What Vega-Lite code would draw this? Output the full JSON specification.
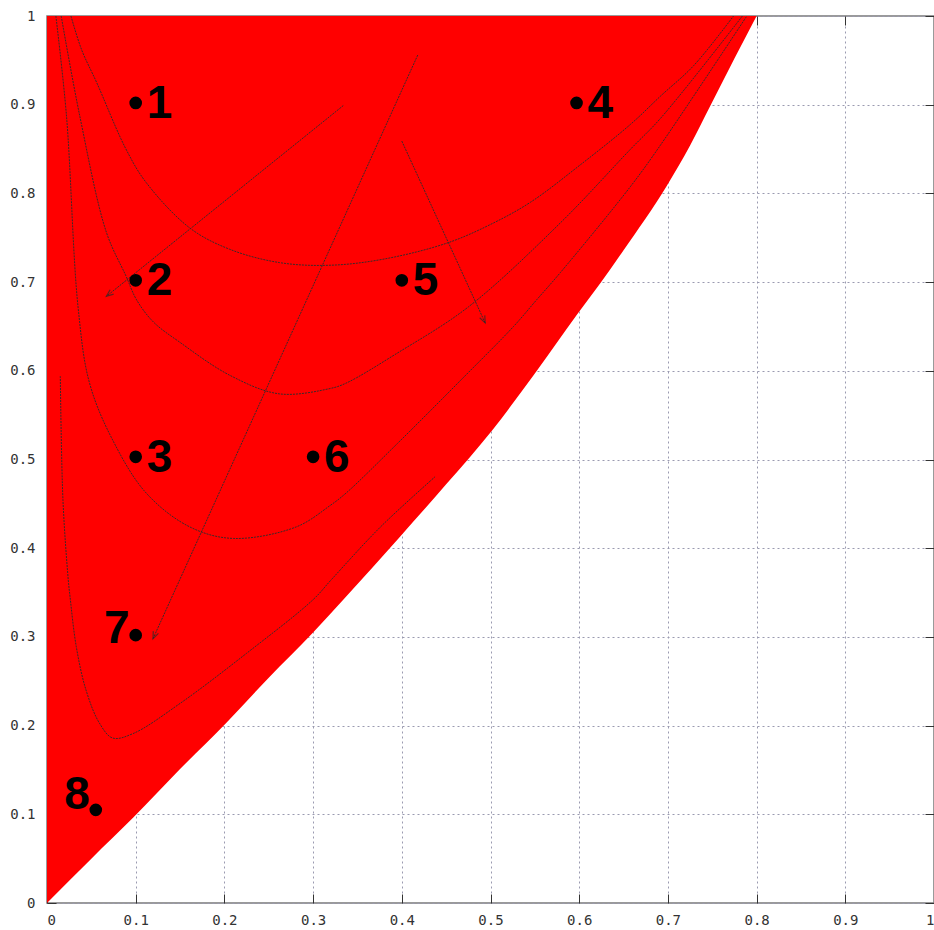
{
  "$schema": "https://vega.github.io/schema/vega-lite/v6.json",
  "width": 887,
  "height": 887,
  "autosize": {"type": "none"},
  "padding": {"left": 47, "top": 16, "right": 0, "bottom": 27},
  "background": "white",
  "config": {
    "view": {"stroke": "#7a7a7a", "strokeWidth": 1.5},
    "axis": {
      "labelFont": "DejaVu Sans Mono",
      "labelFontSize": 14,
      "labelColor": "#333333",
      "tickColor": "#333333",
      "domain": false,
      "title": null
    }
  },
  "datasets": {
    "boundary": [
      {"x": 0, "y": 0}, {"x": 0.05, "y": 0.05}, {"x": 0.097, "y": 0.096}, {"x": 0.15, "y": 0.151},
      {"x": 0.202, "y": 0.203}, {"x": 0.25, "y": 0.254}, {"x": 0.3, "y": 0.305}, {"x": 0.335, "y": 0.343},
      {"x": 0.398, "y": 0.413}, {"x": 0.45, "y": 0.472}, {"x": 0.502, "y": 0.533}, {"x": 0.55, "y": 0.597},
      {"x": 0.598, "y": 0.664}, {"x": 0.624, "y": 0.699}, {"x": 0.65, "y": 0.736}, {"x": 0.699, "y": 0.809},
      {"x": 0.725, "y": 0.854}, {"x": 0.748, "y": 0.899}, {"x": 0.775, "y": 0.952}, {"x": 0.8, "y": 1.0}
    ],
    "curves": [
      {"c": "A", "i": 0, "x": 0.027, "y": 1.0}, {"c": "A", "i": 1, "x": 0.039, "y": 0.962},
      {"c": "A", "i": 2, "x": 0.056, "y": 0.925}, {"c": "A", "i": 3, "x": 0.089, "y": 0.85},
      {"c": "A", "i": 4, "x": 0.112, "y": 0.812}, {"c": "A", "i": 5, "x": 0.161, "y": 0.761},
      {"c": "A", "i": 6, "x": 0.206, "y": 0.737}, {"c": "A", "i": 7, "x": 0.262, "y": 0.722},
      {"c": "A", "i": 8, "x": 0.319, "y": 0.719}, {"c": "A", "i": 9, "x": 0.38, "y": 0.726},
      {"c": "A", "i": 10, "x": 0.451, "y": 0.744}, {"c": "A", "i": 11, "x": 0.5, "y": 0.765},
      {"c": "A", "i": 12, "x": 0.545, "y": 0.79},
      {"c": "A", "i": 13, "x": 0.601, "y": 0.832}, {"c": "A", "i": 14, "x": 0.658, "y": 0.878},
      {"c": "A", "i": 15, "x": 0.692, "y": 0.91}, {"c": "A", "i": 16, "x": 0.729, "y": 0.944},
      {"c": "A", "i": 17, "x": 0.774, "y": 1.0},
      {"c": "B", "i": 0, "x": 0.016, "y": 1.0}, {"c": "B", "i": 1, "x": 0.037, "y": 0.887},
      {"c": "B", "i": 2, "x": 0.067, "y": 0.756}, {"c": "B", "i": 3, "x": 0.089, "y": 0.707},
      {"c": "B", "i": 4, "x": 0.101, "y": 0.68}, {"c": "B", "i": 5, "x": 0.12, "y": 0.655},
      {"c": "B", "i": 6, "x": 0.15, "y": 0.632},
      {"c": "B", "i": 7, "x": 0.206, "y": 0.595}, {"c": "B", "i": 8, "x": 0.262, "y": 0.574},
      {"c": "B", "i": 9, "x": 0.319, "y": 0.58}, {"c": "B", "i": 10, "x": 0.337, "y": 0.586},
      {"c": "B", "i": 11, "x": 0.395, "y": 0.62}, {"c": "B", "i": 12, "x": 0.475, "y": 0.672},
      {"c": "B", "i": 13, "x": 0.579, "y": 0.767}, {"c": "B", "i": 14, "x": 0.658, "y": 0.85},
      {"c": "B", "i": 15, "x": 0.692, "y": 0.885}, {"c": "B", "i": 16, "x": 0.784, "y": 1.0},
      {"c": "C", "i": 0, "x": 0.01, "y": 1.0}, {"c": "C", "i": 1, "x": 0.022, "y": 0.887},
      {"c": "C", "i": 2, "x": 0.035, "y": 0.672}, {"c": "C", "i": 3, "x": 0.048, "y": 0.586},
      {"c": "C", "i": 4, "x": 0.074, "y": 0.522}, {"c": "C", "i": 5, "x": 0.112, "y": 0.462},
      {"c": "C", "i": 6, "x": 0.161, "y": 0.424}, {"c": "C", "i": 7, "x": 0.21, "y": 0.411},
      {"c": "C", "i": 8, "x": 0.281, "y": 0.424}, {"c": "C", "i": 9, "x": 0.319, "y": 0.448},
      {"c": "C", "i": 10, "x": 0.337, "y": 0.462}, {"c": "C", "i": 11, "x": 0.395, "y": 0.518},
      {"c": "C", "i": 12, "x": 0.47, "y": 0.593}, {"c": "C", "i": 13, "x": 0.526, "y": 0.65},
      {"c": "C", "i": 14, "x": 0.552, "y": 0.68}, {"c": "C", "i": 15, "x": 0.579, "y": 0.711},
      {"c": "C", "i": 16, "x": 0.658, "y": 0.808}, {"c": "C", "i": 17, "x": 0.692, "y": 0.855},
      {"c": "C", "i": 18, "x": 0.789, "y": 1.0},
      {"c": "D", "i": 0, "x": 0.015, "y": 0.594}, {"c": "D", "i": 1, "x": 0.018, "y": 0.454},
      {"c": "D", "i": 2, "x": 0.024, "y": 0.364}, {"c": "D", "i": 3, "x": 0.026, "y": 0.345},
      {"c": "D", "i": 4, "x": 0.033, "y": 0.289}, {"c": "D", "i": 5, "x": 0.044, "y": 0.24},
      {"c": "D", "i": 6, "x": 0.059, "y": 0.203}, {"c": "D", "i": 7, "x": 0.074, "y": 0.186},
      {"c": "D", "i": 8, "x": 0.097, "y": 0.191}, {"c": "D", "i": 9, "x": 0.15, "y": 0.225},
      {"c": "D", "i": 10, "x": 0.225, "y": 0.2815}, {"c": "D", "i": 11, "x": 0.3, "y": 0.342},
      {"c": "D", "i": 12, "x": 0.321, "y": 0.365}, {"c": "D", "i": 13, "x": 0.376, "y": 0.424},
      {"c": "D", "i": 14, "x": 0.438, "y": 0.481}
    ],
    "arrows": [
      {"a": 1, "i": 0, "x": 0.334, "y": 0.899}, {"a": 1, "i": 1, "x": 0.067, "y": 0.684},
      {"a": 2, "i": 0, "x": 0.418, "y": 0.956}, {"a": 2, "i": 1, "x": 0.1195, "y": 0.298},
      {"a": 3, "i": 0, "x": 0.4, "y": 0.859}, {"a": 3, "i": 1, "x": 0.494, "y": 0.654}
    ],
    "points": [
      {"label": "1", "x": 0.1, "y": 0.902},
      {"label": "2", "x": 0.1, "y": 0.702},
      {"label": "3", "x": 0.1, "y": 0.503},
      {"label": "4", "x": 0.597, "y": 0.902},
      {"label": "5", "x": 0.4, "y": 0.702},
      {"label": "6", "x": 0.3, "y": 0.503},
      {"label": "7", "x": 0.1, "y": 0.302},
      {"label": "8", "x": 0.055, "y": 0.105}
    ]
  },
  "layer": [
    {
      "data": {"name": "boundary"},
      "mark": {"type": "area", "color": "#ff0000", "opacity": 1, "interpolate": "monotone"},
      "encoding": {
        "x": {"field": "x", "type": "quantitative", "scale": {"domain": [0, 1], "nice": false, "zero": false},
          "axis": {"orient": "bottom", "values": [0, 0.1, 0.2, 0.3, 0.4, 0.5, 0.6, 0.7, 0.8, 0.9, 1], "format": "~g",
            "grid": true, "gridColor": "#9a9ab0", "gridDash": [2, 3], "gridWidth": 1, "tickSize": -9, "labelPadding": 19}},
        "y": {"field": "y", "type": "quantitative", "scale": {"domain": [0, 1], "nice": false, "zero": false},
          "axis": {"orient": "left", "values": [0, 0.1, 0.2, 0.3, 0.4, 0.5, 0.6, 0.7, 0.8, 0.9, 1], "format": "~g",
            "grid": true, "gridColor": "#9a9ab0", "gridDash": [2, 3], "gridWidth": 1, "tickSize": -9, "labelPadding": 21}},
        "y2": {"datum": 1}
      }
    },
    {
      "data": {"name": "curves"},
      "mark": {"type": "line", "color": "#3a2a2a", "strokeWidth": 1, "strokeDash": [2, 1], "interpolate": "catmull-rom"},
      "encoding": {
        "x": {"field": "x", "type": "quantitative",
          "axis": {"orient": "top", "values": [0, 0.1, 0.2, 0.3, 0.4, 0.5, 0.6, 0.7, 0.8, 0.9, 1], "labels": false, "grid": false, "tickSize": -9}},
        "y": {"field": "y", "type": "quantitative",
          "axis": {"orient": "right", "values": [0, 0.1, 0.2, 0.3, 0.4, 0.5, 0.6, 0.7, 0.8, 0.9, 1], "labels": false, "grid": false, "tickSize": -9}},
        "detail": {"field": "c"},
        "order": {"field": "i", "type": "quantitative"}
      }
    },
    {
      "data": {"name": "arrows"},
      "mark": {"type": "line", "color": "#3a2a2a", "strokeWidth": 1, "strokeDash": [2, 1]},
      "encoding": {
        "x": {"field": "x", "type": "quantitative", "axis": null},
        "y": {"field": "y", "type": "quantitative", "axis": null},
        "detail": {"field": "a"},
        "order": {"field": "i", "type": "quantitative"}
      }
    },
    {
      "data": {"values": [{"x": 0.067, "y": 0.684}]},
      "mark": {"type": "point", "shape": "M-0.4,1L0,0L0.4,1", "size": 196, "filled": false, "stroke": "#2a2a2a", "strokeWidth": 1.2, "angle": 231},
      "encoding": {"x": {"field": "x", "type": "quantitative", "axis": null}, "y": {"field": "y", "type": "quantitative", "axis": null}}
    },
    {
      "data": {"values": [{"x": 0.1195, "y": 0.298}]},
      "mark": {"type": "point", "shape": "M-0.4,1L0,0L0.4,1", "size": 196, "filled": false, "stroke": "#2a2a2a", "strokeWidth": 1.2, "angle": 204},
      "encoding": {"x": {"field": "x", "type": "quantitative", "axis": null}, "y": {"field": "y", "type": "quantitative", "axis": null}}
    },
    {
      "data": {"values": [{"x": 0.494, "y": 0.654}]},
      "mark": {"type": "point", "shape": "M-0.4,1L0,0L0.4,1", "size": 196, "filled": false, "stroke": "#2a2a2a", "strokeWidth": 1.2, "angle": 155},
      "encoding": {"x": {"field": "x", "type": "quantitative", "axis": null}, "y": {"field": "y", "type": "quantitative", "axis": null}}
    },
    {
      "data": {"name": "points"},
      "mark": {"type": "point", "shape": "circle", "filled": true, "color": "#000000", "size": 160, "opacity": 1},
      "encoding": {"x": {"field": "x", "type": "quantitative", "axis": null}, "y": {"field": "y", "type": "quantitative", "axis": null}}
    },
    {
      "data": {"name": "points"},
      "transform": [{"filter": "datum.label != '7' && datum.label != '8'"}],
      "mark": {"type": "text", "font": "Liberation Sans", "fontWeight": "bold", "fontSize": 46, "color": "#000000", "align": "left", "baseline": "alphabetic", "dx": 11, "dy": 15},
      "encoding": {"x": {"field": "x", "type": "quantitative", "axis": null}, "y": {"field": "y", "type": "quantitative", "axis": null}, "text": {"field": "label"}}
    },
    {
      "data": {"name": "points"},
      "transform": [{"filter": "datum.label == '7'"}],
      "mark": {"type": "text", "font": "Liberation Sans", "fontWeight": "bold", "fontSize": 46, "color": "#000000", "align": "right", "baseline": "alphabetic", "dx": -6, "dy": 8},
      "encoding": {"x": {"field": "x", "type": "quantitative", "axis": null}, "y": {"field": "y", "type": "quantitative", "axis": null}, "text": {"field": "label"}}
    },
    {
      "data": {"name": "points"},
      "transform": [{"filter": "datum.label == '8'"}],
      "mark": {"type": "text", "font": "Liberation Sans", "fontWeight": "bold", "fontSize": 46, "color": "#000000", "align": "right", "baseline": "alphabetic", "dx": -6, "dy": -1},
      "encoding": {"x": {"field": "x", "type": "quantitative", "axis": null}, "y": {"field": "y", "type": "quantitative", "axis": null}, "text": {"field": "label"}}
    }
  ],
  "resolve": {"axis": {"x": "independent", "y": "independent"}}
}
